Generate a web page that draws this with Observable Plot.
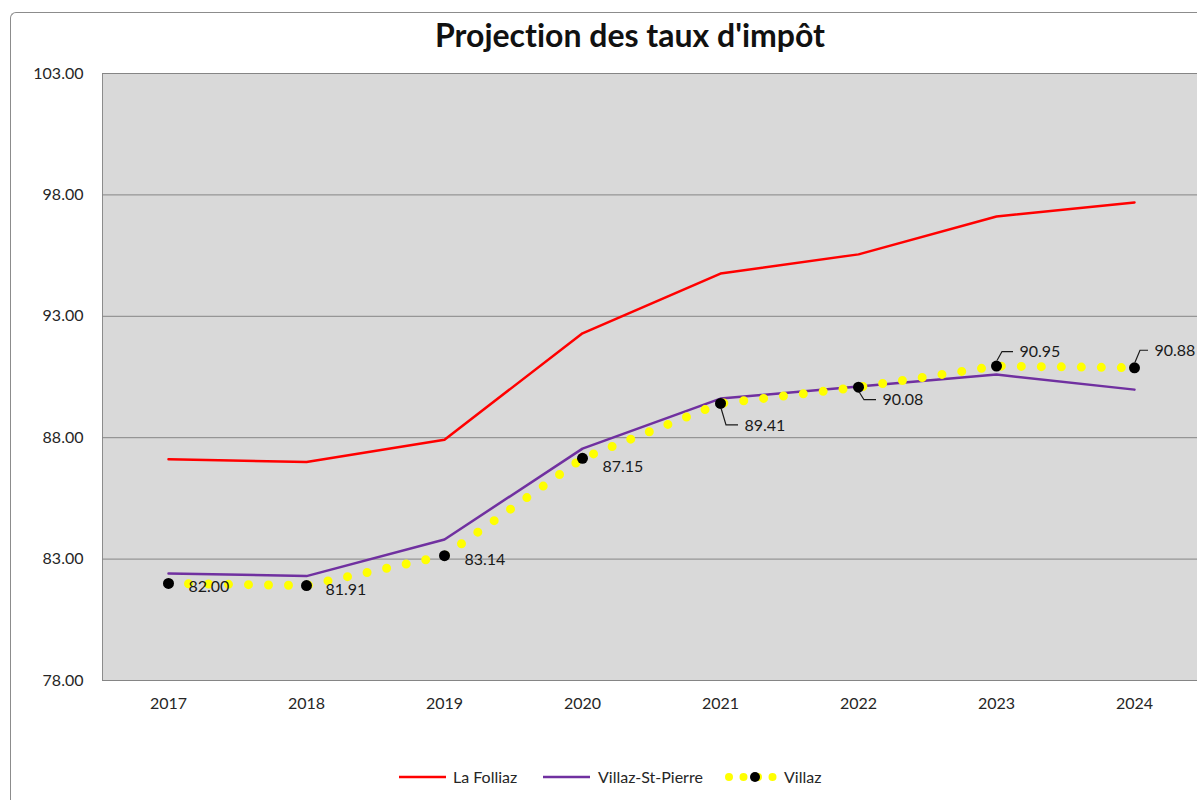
<!DOCTYPE html>
<html>
<head>
<meta charset="utf-8">
<script src="https://cdn.jsdelivr.net/npm/d3@7"></script>
<script src="https://cdn.jsdelivr.net/npm/@observablehq/plot@0.6"></script>
<style>
  html, body { margin: 0; padding: 0; overflow: hidden; background: #fff; }
  #wrap { position: relative; width: 1197px; height: 800px; overflow: hidden; font-family: Lato, "Open Sans", sans-serif; font-variant-ligatures: none; }
  #border { position: absolute; left: 10px; top: 12px; width: 1400px; height: 1000px; border-left: 1px solid #8c8c8c; border-top: 1px solid #8c8c8c; border-top-left-radius: 6px; }
  #title { position: absolute; left: 0; top: 19px; width: 1260px; text-align: center; font-weight: bold; font-size: 32px; line-height: 1; color: #111; font-variant-ligatures: none; font-feature-settings: "liga" 0, "clig" 0; }
  #chart { position: absolute; left: 0; top: 60px; }
  #legend { position: absolute; left: 0; top: 757px; }
</style>
</head>
<body>
<div id="wrap">
  <div id="border"></div>
  <div id="title">Projection des taux d'impôt</div>
  <div id="chart"></div>
  <svg id="legend" width="1197" height="40"></svg>
</div>
<script>
// ---- data ----
const years = ["2017", "2018", "2019", "2020", "2021", "2022", "2023", "2024"];
const laFolliaz = [87.11, 87.00, 87.92, 92.30, 94.76, 95.55, 97.11, 97.69];
const villazStPierre = [82.41, 82.30, 83.81, 87.55, 89.61, 90.11, 90.60, 89.98];
const villaz = [82.00, 81.91, 83.14, 87.15, 89.41, 90.08, 90.95, 90.88];
const yTicks = [78, 83, 88, 93, 98, 103];
const seriesNames = ["La Folliaz", "Villaz-St-Pierre", "Villaz"];

// label placement (pixel offsets from each Villaz point) and leader flags
const labelOffsets = [[20, 3], [19, 4], [20, 4], [20, 9], [24, 22], [24, 13], [23, -14], [20, -17]];
const hasLeader = [false, false, false, false, true, true, true, true];

const toRows = (vals) => years.map((year, i) => ({year, value: vals[i], i}));
const folliazRows = toRows(laFolliaz);
const vspRows = toRows(villazStPierre);
const villazRows = toRows(villaz);

const red = "#ff0000", purple = "#7030a0", yellow = "#ffff00";

const labelMarks = villazRows.map((d, i) => Plot.text([d], {
  x: "year", y: "value", text: r => r.value.toFixed(2),
  dx: labelOffsets[i][0], dy: labelOffsets[i][1],
  textAnchor: "start", fill: "#1a1a1a", fontSize: 16
}));

const plot = Plot.plot({
  width: 1197,
  height: 665,
  marginTop: 13,
  marginBottom: 45,
  marginLeft: 102,
  marginRight: -3,
  style: {fontFamily: "Lato, 'Open Sans', sans-serif", fontSize: "16px", color: "#262626", background: "transparent", overflow: "visible"},
  x: {type: "point", domain: years, padding: 0.478, label: null, tickSize: 0, tickPadding: 17},
  y: {domain: [78, 103], ticks: yTicks, tickFormat: d => d.toFixed(2), label: null, tickSize: 0, tickPadding: 19},
  marks: [
    Plot.frame({fill: "#d9d9d9", stroke: "#8c8c8c"}),
    Plot.ruleY(yTicks, {stroke: "#858585", strokeWidth: 1}),
    Plot.line(folliazRows, {x: "year", y: "value", stroke: red, strokeWidth: 2.5}),
    Plot.line(vspRows, {x: "year", y: "value", stroke: purple, strokeWidth: 2.5}),
    Plot.line(villazRows, {x: "year", y: "value", stroke: yellow, strokeWidth: 9, strokeDasharray: "0 20", strokeLinecap: "round"}),
    Plot.dot(villazRows, {x: "year", y: "value", r: 5.5, fill: "#000", stroke: "none"}),
    ...labelMarks
  ]
});
document.getElementById("chart").appendChild(plot);

// leader lines for data labels
const xs = plot.scale("x"), ys = plot.scale("y");
const svg = d3.select(plot);
villazRows.forEach((d, i) => {
  if (!hasLeader[i]) return;
  const px = xs.apply(d.year), py = ys.apply(d.value);
  const [dx, dy] = labelOffsets[i];
  const sign = dy > 0 ? 1 : -1;
  const cy = py + dy;
  const path = `M${px + 1},${py + sign * 5} L${px + 6},${cy} L${px + dx - 6},${cy}`;
  svg.append("path").attr("d", path).attr("fill", "none").attr("stroke", "#1a1a1a").attr("stroke-width", 1.2);
});

// legend
const lg = d3.select("#legend");
const ly = 20;
const items = [
  {name: seriesNames[0], x0: 399, x1: 446, tx: 453, kind: "solid", color: red},
  {name: seriesNames[1], x0: 543, x1: 590, tx: 598, kind: "solid", color: purple},
  {name: seriesNames[2], x0: 729, x1: 775, tx: 784, kind: "dots", color: yellow}
];
items.forEach(it => {
  if (it.kind === "solid") {
    lg.append("line").attr("x1", it.x0).attr("x2", it.x1).attr("y1", ly).attr("y2", ly)
      .attr("stroke", it.color).attr("stroke-width", 2.5);
  } else {
    lg.append("line").attr("x1", it.x0).attr("x2", it.x1).attr("y1", ly).attr("y2", ly)
      .attr("stroke", it.color).attr("stroke-width", 8).attr("stroke-dasharray", "0 14.5").attr("stroke-linecap", "round");
    lg.append("circle").attr("cx", (it.x0 + it.x1) / 2 + 3).attr("cy", ly).attr("r", 5).attr("fill", "#000");
  }
  lg.append("text").attr("x", it.tx).attr("y", ly).attr("dy", "0.35em")
    .attr("font-family", "Lato, 'Open Sans', sans-serif").attr("font-size", 16).attr("fill", "#262626").text(it.name);
});
</script>
</body>
</html>
